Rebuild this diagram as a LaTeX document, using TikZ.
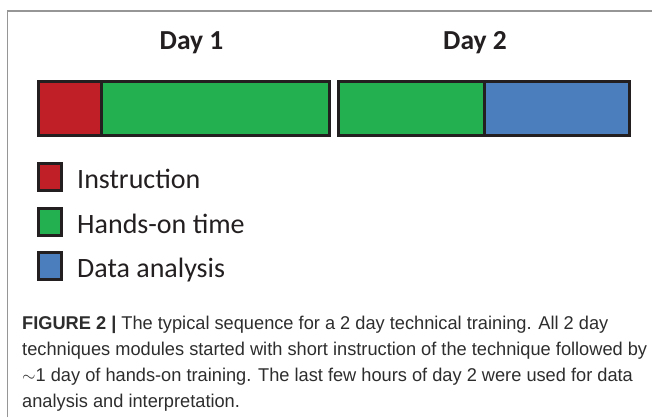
\documentclass[tikz,border=0pt]{standalone}
\usepackage{fontspec}
\setmainfont{Carlito}
\newfontfamily\capfont[FakeStretch=0.985]{Liberation Sans}
\usetikzlibrary{positioning}
\definecolor{instrred}{RGB}{193,31,39}
\definecolor{handsgreen}{RGB}{34,176,80}
\definecolor{datablue}{RGB}{74,126,189}
\definecolor{inkdark}{RGB}{35,31,32}
\definecolor{framegray}{RGB}{150,150,150}
\definecolor{capgray}{RGB}{45,45,45}
\tikzstyle{seg} = [
  rectangle, draw=inkdark, line width=3pt, minimum height=54.5pt,
  inner sep=0pt, outer sep=0pt, anchor=west
]
\tikzstyle{key} = [
  rectangle, draw=inkdark, line width=3pt, minimum width=23pt,
  minimum height=27pt, inner sep=0pt, outer sep=0pt
]
\tikzstyle{keytext} = [
  font=\fontsize{28}{30}\selectfont, text=inkdark, inner sep=0pt,
  anchor=base west
]
\tikzstyle{daytext} = [
  font=\bfseries\fontsize{27.5}{30}\selectfont, text=inkdark, inner sep=0pt,
  anchor=base
]

\begin{document}
\begin{tikzpicture}[x=1pt, y=-1pt]
    \useasboundingbox (0,0) rectangle (652,417);
    % frame
    \draw[framegray, line width=1.5pt] (7.3,417) -- (7.3,11) -- (652,11);

    % day labels
    \node[daytext] (day1) at (191.5,50) {Day 1};
    \node[daytext] (day2) at (475,50) {Day 2};

    % day 1 bar
    \node[seg, fill=instrred, minimum width=62.5pt] (instr) at (38.5,108.3) {};
    \node[seg, fill=handsgreen, minimum width=228pt, right=0pt of instr.east] (hands1) {};
    % day 2 bar
    \node[seg, fill=handsgreen, minimum width=145.5pt] (hands2) at (338.5,108.3) {};
    \node[seg, fill=datablue, minimum width=145.5pt, right=0pt of hands2.east] (data) {};

    % legend
    \node[key, fill=instrred] (keyinstr) at (50,177) {};
    \node[key, fill=handsgreen] (keyhands) at (50,222) {};
    \node[key, fill=datablue] (keydata) at (50,266) {};
    \node[keytext] (lblinstr) at (77,188) {Instruction};
    \node[keytext] (lblhands) at (77,233) {Hands-on time};
    \node[keytext] (lbldata) at (77,277) {Data analysis};

    % caption
    \node[anchor=north west, inner sep=0pt, align=left, text=capgray,
      font=\capfont\fontsize{18.5}{26}\selectfont] (caption) at (22,316)
      {\textbf{FIGURE 2 |} The typical sequence for a 2 day technical training. All 2 day\\
       techniques modules started with short instruction of the technique followed by\\
       $\sim$1 day of hands-on training. The last few hours of day 2 were used for data\\
       analysis and interpretation.};
\end{tikzpicture}
\end{document}
